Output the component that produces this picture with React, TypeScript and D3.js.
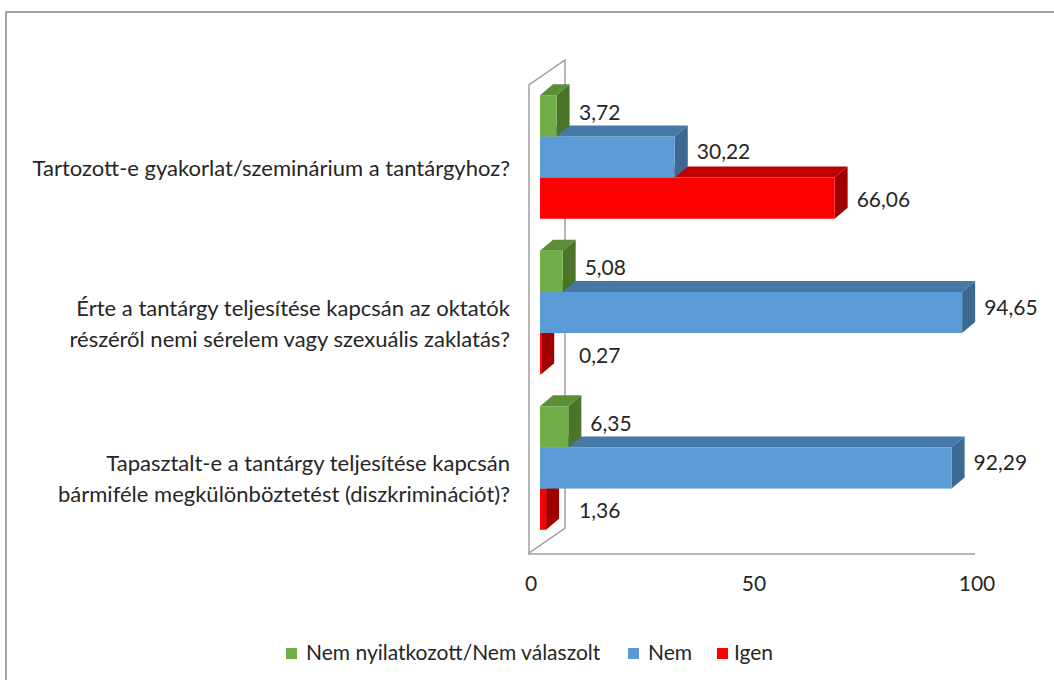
import React from 'react';
import * as d3 from 'd3';

// kategóriák (soronként tördelve, ahogy az eredetin)
const categories = [
  ['Tartozott-e gyakorlat/szeminárium a tantárgyhoz?'],
  ['Érte a tantárgy teljesítése kapcsán az oktatók', 'részéről nemi sérelem vagy szexuális zaklatás?'],
  ['Tapasztalt-e a tantárgy teljesítése kapcsán', 'bármiféle megkülönböztetést (diszkriminációt)?'],
];

const seriesNames = ['Nem nyilatkozott/Nem válaszolt', 'Nem', 'Igen'];
const notAnswered = [3.72, 5.08, 6.35];
const noValues = [30.22, 94.65, 92.29];
const yesValues = [66.06, 0.27, 1.36];
const xTicks = [0, 50, 100];

const seriesValues = [notAnswered, noValues, yesValues];

const palette = [
  { front: '#70AD47', top: '#5B8F37', side: '#4A7529' },
  { front: '#5B9BD5', top: '#4679A8', side: '#3D6891' },
  { front: '#FF0000', top: '#C00000', side: '#A00000' },
];

const W = 1054;
const H = 680;
const FONT = 'Lato, "Open Sans", sans-serif';
const TEXT = '#262626';
const DX = 13;
const DY = -11;
const WALL_DX = 36;
const WALL_DY = -25;
const plotTop = 85;
const floorY = 554;
const legendX = [286, 628, 717];
// címkék függőleges eltolása sorozatonként (az Excel 3D elhelyezését követi)
const labelShift = [4, 2, 9];

const fmt = (v: number) => v.toFixed(2).replace('.', ',');

const App: React.FC = () => {
  const xAxis = d3.scaleLinear().domain([0, 100]).range([529, 975]);
  const xBar = (v: number) => xAxis(v) + 11;

  const yGroup = d3.scaleBand<number>()
    .domain(d3.range(categories.length))
    .range([78, 547])
    .paddingInner(0.206)
    .paddingOuter(0.111);

  const ySeries = d3.scaleBand<number>()
    .domain(d3.range(seriesNames.length))
    .range([0, yGroup.bandwidth()]);

  const x0 = xAxis(0);
  const h = ySeries.bandwidth();

  // alsó sorozat rajzolódik először, hogy a felső takarja a tetejét
  const drawOrder = [2, 1, 0];

  return (
    <svg width={W} height={H} style={{ position: 'absolute', left: 0, top: 0, background: '#fff' }}>
      <rect x={0} y={0} width={W} height={H} fill="#fff" />
      <rect x={6} y={12} width={W + 20} height={H + 20} fill="none" stroke="#868686" strokeWidth={1.5} />

      {/* oldalfal */}
      <path
        d={`M${x0},${floorY - 1} L${x0},${plotTop} L${x0 + WALL_DX},${plotTop + WALL_DY} L${x0 + WALL_DX},${floorY - 1 + WALL_DY} Z`}
        fill="none"
        stroke="#A0A0A0"
        strokeWidth={1.5}
      />
      <line x1={x0 - 1} x2={xAxis(100)} y1={floorY} y2={floorY} stroke="#A0A0A0" strokeWidth={1.5} />

      {/* oszlopok */}
      {categories.map((_, ci) => (
        <g key={ci}>
          {drawOrder.map(si => {
            const v = seriesValues[si][ci];
            const c = palette[si];
            const y0 = (yGroup(ci) || 0) + (ySeries(si) || 0);
            const a = xBar(0);
            const b = xBar(v);
            return (
              <g key={si}>
                <path
                  d={`M${a},${y0} L${b},${y0} L${b + DX},${y0 + DY} L${a + DX},${y0 + DY} Z`}
                  fill={c.top}
                />
                <path
                  d={`M${b},${y0} L${b + DX},${y0 + DY} L${b + DX},${y0 + h + DY} L${b},${y0 + h} Z`}
                  fill={c.side}
                />
                <rect x={a} y={y0} width={Math.max(b - a, 0.8)} height={h} fill={c.front} />
              </g>
            );
          })}
        </g>
      ))}

      {/* értékcímkék */}
      {categories.map((_, ci) =>
        seriesNames.map((__, si) => {
          const v = seriesValues[si][ci];
          const y0 = (yGroup(ci) || 0) + (ySeries(si) || 0);
          return (
            <text
              key={`${ci}-${si}`}
              x={Math.max(xBar(v) + DX + 9, 579)}
              y={y0 + h / 2 + labelShift[si]}
              fontFamily={FONT}
              fontSize={21}
              fill={TEXT}
            >
              {fmt(v)}
            </text>
          );
        })
      )}

      {/* kategóriacímkék */}
      {categories.map((lines, ci) => {
        const cy = (yGroup(ci) || 0) + yGroup.bandwidth() / 2 + 11;
        const lh = 31;
        const start = cy - ((lines.length - 1) * lh) / 2;
        return (
          <text key={ci} textAnchor="end" fontFamily={FONT} fontSize={22} fill={TEXT}>
            {lines.map((l, li) => (
              <tspan key={li} x={510} y={start + li * lh} dy="0.35em">{l}</tspan>
            ))}
          </text>
        );
      })}

      {/* x tengely feliratai */}
      {xTicks.map(t => (
        <text
          key={t}
          x={xAxis(t) + 2}
          y={591}
          textAnchor="middle"
          fontFamily={FONT}
          fontSize={21}
          fill={TEXT}
        >
          {t}
        </text>
      ))}

      {/* jelmagyarázat */}
      {seriesNames.map((name, si) => (
        <g key={name} transform={`translate(${legendX[si]},648)`}>
          <rect x={0} y={0} width={11} height={11} fill={palette[si].front} />
          <text x={si === 2 ? 17 : 20} y={12} fontFamily={FONT} fontSize={21} fill={TEXT}>{name}</text>
        </g>
      ))}
    </svg>
  );
};

export default App;
